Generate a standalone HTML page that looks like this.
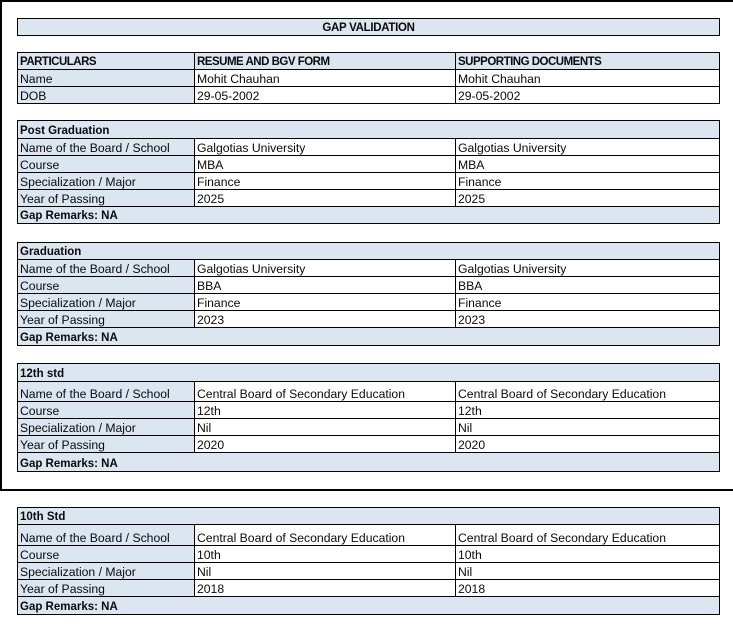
<!DOCTYPE html>
<html>
<head>
<meta charset="utf-8">
<style>
  html,body{margin:0;padding:0;background:#fff;}
  body{width:733px;height:628px;position:relative;overflow:hidden;
       font-family:"Liberation Sans",Arial,sans-serif;font-size:12.2px;color:#0a0a0a;}
  .c{position:absolute;box-sizing:border-box;border:1px solid #000;
     display:flex;align-items:flex-end;padding:0 2px 0 2px;line-height:14px;white-space:nowrap;overflow:hidden;background:#fff;}
  .b{background:#dce6f1;}
  .bd{font-weight:bold;font-size:11.5px;}
  .up{letter-spacing:-0.5px;}
  .ctr{justify-content:center;letter-spacing:-0.3px;}
  .k{position:absolute;background:#000;}
</style>
</head>
<body>
<!-- page black lines -->
<div class="k" style="left:0;top:0;width:733px;height:2px;"></div>
<div class="k" style="left:0;top:0;width:2px;height:491px;"></div>
<div class="k" style="left:0;top:489px;width:733px;height:2px;"></div>

<!-- Title -->
<div class="c b bd ctr" style="left:17px;top:18px;width:703px;height:18px;">GAP VALIDATION</div>

<!-- Header table -->
<div class="c b bd up" style="left:17px;top:52px;width:178px;height:18px;">PARTICULARS</div>
<div class="c b bd up" style="left:194px;top:52px;width:262px;height:18px;">RESUME AND BGV FORM</div>
<div class="c b bd up" style="left:455px;top:52px;width:265px;height:18px;">SUPPORTING DOCUMENTS</div>

<div class="c b" style="left:17px;top:69px;width:178px;height:18px;">Name</div>
<div class="c" style="left:194px;top:69px;width:262px;height:18px;">Mohit Chauhan</div>
<div class="c" style="left:455px;top:69px;width:265px;height:18px;">Mohit Chauhan</div>

<div class="c b" style="left:17px;top:86px;width:178px;height:18px;">DOB</div>
<div class="c" style="left:194px;top:86px;width:262px;height:18px;">29-05-2002</div>
<div class="c" style="left:455px;top:86px;width:265px;height:18px;">29-05-2002</div>

<!-- Post Graduation -->
<div class="c b bd" style="left:17px;top:120px;width:703px;height:19px;">Post Graduation</div>
<div class="c b" style="left:17px;top:138px;width:178px;height:18px;">Name of the Board / School</div>
<div class="c" style="left:194px;top:138px;width:262px;height:18px;">Galgotias University</div>
<div class="c" style="left:455px;top:138px;width:265px;height:18px;">Galgotias University</div>
<div class="c b" style="left:17px;top:155px;width:178px;height:18px;">Course</div>
<div class="c" style="left:194px;top:155px;width:262px;height:18px;">MBA</div>
<div class="c" style="left:455px;top:155px;width:265px;height:18px;">MBA</div>
<div class="c b" style="left:17px;top:172px;width:178px;height:18px;">Specialization / Major</div>
<div class="c" style="left:194px;top:172px;width:262px;height:18px;">Finance</div>
<div class="c" style="left:455px;top:172px;width:265px;height:18px;">Finance</div>
<div class="c b" style="left:17px;top:189px;width:178px;height:18px;">Year of Passing</div>
<div class="c" style="left:194px;top:189px;width:262px;height:18px;">2025</div>
<div class="c" style="left:455px;top:189px;width:265px;height:18px;">2025</div>
<div class="c b bd" style="left:17px;top:206px;width:703px;height:18px;">Gap Remarks: NA</div>

<!-- Graduation -->
<div class="c b bd" style="left:17px;top:242px;width:703px;height:18px;">Graduation</div>
<div class="c b" style="left:17px;top:259px;width:178px;height:18px;">Name of the Board / School</div>
<div class="c" style="left:194px;top:259px;width:262px;height:18px;">Galgotias University</div>
<div class="c" style="left:455px;top:259px;width:265px;height:18px;">Galgotias University</div>
<div class="c b" style="left:17px;top:276px;width:178px;height:18px;">Course</div>
<div class="c" style="left:194px;top:276px;width:262px;height:18px;">BBA</div>
<div class="c" style="left:455px;top:276px;width:265px;height:18px;">BBA</div>
<div class="c b" style="left:17px;top:293px;width:178px;height:18px;">Specialization / Major</div>
<div class="c" style="left:194px;top:293px;width:262px;height:18px;">Finance</div>
<div class="c" style="left:455px;top:293px;width:265px;height:18px;">Finance</div>
<div class="c b" style="left:17px;top:310px;width:178px;height:18px;">Year of Passing</div>
<div class="c" style="left:194px;top:310px;width:262px;height:18px;">2023</div>
<div class="c" style="left:455px;top:310px;width:265px;height:18px;">2023</div>
<div class="c b bd" style="left:17px;top:327px;width:703px;height:19px;">Gap Remarks: NA</div>

<!-- 12th std -->
<div class="c b bd" style="left:17px;top:363px;width:703px;height:19px;">12th std</div>
<div class="c b" style="left:17px;top:381px;width:178px;height:21px;">Name of the Board / School</div>
<div class="c" style="left:194px;top:381px;width:262px;height:21px;">Central Board of Secondary Education</div>
<div class="c" style="left:455px;top:381px;width:265px;height:21px;">Central Board of Secondary Education</div>
<div class="c b" style="left:17px;top:401px;width:178px;height:18px;">Course</div>
<div class="c" style="left:194px;top:401px;width:262px;height:18px;">12th</div>
<div class="c" style="left:455px;top:401px;width:265px;height:18px;">12th</div>
<div class="c b" style="left:17px;top:418px;width:178px;height:18px;">Specialization / Major</div>
<div class="c" style="left:194px;top:418px;width:262px;height:18px;">Nil</div>
<div class="c" style="left:455px;top:418px;width:265px;height:18px;">Nil</div>
<div class="c b" style="left:17px;top:435px;width:178px;height:18px;">Year of Passing</div>
<div class="c" style="left:194px;top:435px;width:262px;height:18px;">2020</div>
<div class="c" style="left:455px;top:435px;width:265px;height:18px;">2020</div>
<div class="c b bd" style="left:17px;top:452px;width:703px;height:20px;">Gap Remarks: NA</div>

<!-- 10th Std -->
<div class="c b bd" style="left:17px;top:507px;width:703px;height:18px;">10th Std</div>
<div class="c b" style="left:17px;top:524px;width:178px;height:22px;">Name of the Board / School</div>
<div class="c" style="left:194px;top:524px;width:262px;height:22px;">Central Board of Secondary Education</div>
<div class="c" style="left:455px;top:524px;width:265px;height:22px;">Central Board of Secondary Education</div>
<div class="c b" style="left:17px;top:545px;width:178px;height:18px;">Course</div>
<div class="c" style="left:194px;top:545px;width:262px;height:18px;">10th</div>
<div class="c" style="left:455px;top:545px;width:265px;height:18px;">10th</div>
<div class="c b" style="left:17px;top:562px;width:178px;height:18px;">Specialization / Major</div>
<div class="c" style="left:194px;top:562px;width:262px;height:18px;">Nil</div>
<div class="c" style="left:455px;top:562px;width:265px;height:18px;">Nil</div>
<div class="c b" style="left:17px;top:579px;width:178px;height:18px;">Year of Passing</div>
<div class="c" style="left:194px;top:579px;width:262px;height:18px;">2018</div>
<div class="c" style="left:455px;top:579px;width:265px;height:18px;">2018</div>
<div class="c b bd" style="left:17px;top:596px;width:703px;height:19px;">Gap Remarks: NA</div>
</body>
</html>
